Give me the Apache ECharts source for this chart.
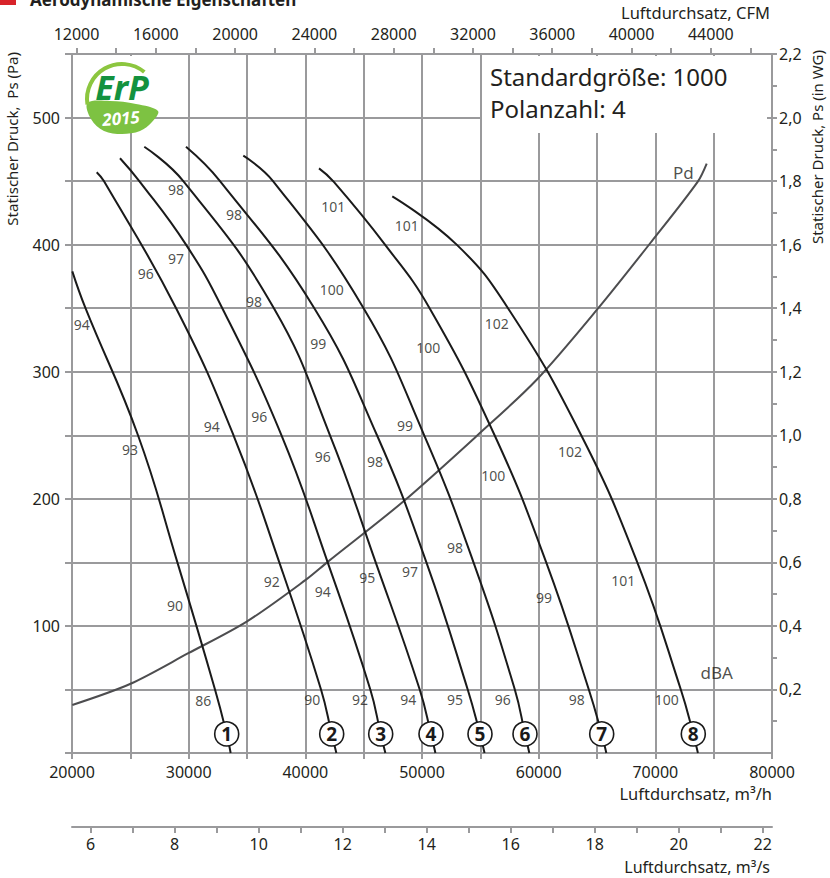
<!DOCTYPE html>
<html>
<head>
<meta charset="utf-8">
<script src="https://cdn.jsdelivr.net/npm/echarts@6/dist/echarts.min.js"></script>
<style>
  html, body { margin: 0; padding: 0; background: #fff; }
  #chart { width: 830px; height: 878px; }
</style>
</head>
<body>
<div id="chart"></div>
<script>
// Kennlinien: [Luftdurchsatz m3/h, statischer Druck Pa]
const curve1 = [[20026,379],[21157,350],[25657,250],[29034,150],[32257,50],[33260,15],[33600,0]];
const curve2 = [[22117,457],[22734,450],[28923,350],[33843,250],[37769,150],[41343,50],[42260,15],[42660,0]];
const curve3 = [[24114,468],[25769,450],[29771,400],[32883,350],[37957,250],[41917,150],[45569,50],[46460,15],[46860,0]];
const curve4 = [[26197,477],[29540,450],[37306,350],[42114,250],[46031,150],[49803,50],[50771,15],[51150,0]];
const curve5 = [[29771,477],[32686,450],[40769,350],[46143,250],[50377,150],[53917,50],[54971,15],[55360,0]];
const curve6 = [[34683,470],[37229,450],[44994,350],[50189,250],[54414,150],[57954,50],[58829,15],[59200,0]];
const curve7 = [[41171,460],[42380,450],[46829,400],[50651,350],[56223,250],[60646,150],[64297,50],[65403,15],[65800,0]];
const curve8 = [[47454,438],[52971,400],[57371,350],[63646,250],[68454,150],[72183,50],[73254,15],[73650,0]];
// dynamischer Druck Pd
const pdCurve = [[20026,37.8],[24971,54.3],[29969,78.5],[34974,103.4],[40000,136],[41917,150.4],[48397,197.9],[54800,250.4],[59829,293.7],[65069,349.6],[69686,402.6],[73640,449.6],[74403,463.8]];

// Schallpegel dBA an den Kennlinien: [m3/h, Pa, Text]
const dba1 = [[20831,337,'94'],[24971,239,'93'],[28829,116,'90'],[31254,41,'86']];
const dba2 = [[26317,377,'96'],[31974,257,'94'],[37117,135,'92'],[40597,42,'90']];
const dba3 = [[28914,389,'97'],[36054,265,'96'],[41489,127,'94'],[44686,42,'92']];
const dba4 = [[28914,443,'98'],[35600,355,'98'],[41489,233,'96'],[45311,138,'95'],[48826,42,'94']];
const dba5 = [[33886,424,'98'],[41111,322,'99'],[45971,229,'98'],[48971,143,'97'],[52829,42,'95']];
const dba6 = [[42260,365,'100'],[48543,258,'99'],[52829,162,'98'],[56917,42,'96']];
const dba7 = [[42397,430,'101'],[50540,319,'100'],[56111,218,'100'],[60457,122,'99'],[63260,42,'98']];
const dba8 = [[48689,415,'101'],[56403,338,'102'],[62686,237,'102'],[67254,136,'101'],[70974,42,'100']];

// Kurvennummern (Kreise)
const curveNumbers = [[33260,15,'1'],[42260,15,'2'],[46460,15,'3'],[50771,15,'4'],[54971,15,'5'],[58829,15,'6'],[65403,15,'7'],[73254,15,'8']];
const curveNames = [[72397,457,'Pd'],[75257,63,'dBA']];

// Achsen
const m3hLabels = [20000,30000,40000,50000,60000,70000,80000];
const cfmTicks = [12000,14000,16000,18000,20000,22000,24000,26000,28000,30000,32000,34000,36000,38000,40000,42000,44000,46000];
const cfmLabels = [12000,16000,20000,24000,28000,32000,36000,40000,44000];
const m3sTicks = [6,7,8,9,10,11,12,13,14,15,16,17,18,19,20,21,22];
const m3sLabels = [6,8,10,12,14,16,18,20,22];
const paLabels = [100,200,300,400,500];
const wgTicks = [0.1,0.2,0.3,0.4,0.5,0.6,0.7,0.8,0.9,1.0,1.1,1.2,1.3,1.4,1.5,1.6,1.7,1.8,1.9,2.0,2.1,2.2];
const wgLabels = [0.2,0.4,0.6,0.8,1.0,1.2,1.4,1.6,1.8,2.0,2.2];

const M3H_PER_CFM = 1.699;
const M3H_PER_M3S = 3600;
const Q_MIN = 20000, Q_MAX = 80000;

const gray = '#9a9a9c';
const ink = '#231f20';
const FONT = '"Noto Sans", "DejaVu Sans", sans-serif';

const chart = echarts.init(document.getElementById('chart'), null, { renderer: 'svg' });

// Zahlen ohne Tausendertrennzeichen
const plain = v => String(Math.round(v));

function axisBase(extra) {
  return Object.assign({
    type: 'value',
    axisLine: { show: true, onZero: false, lineStyle: { color: gray, width: 2 } },
    axisTick: { show: true, inside: false, length: 6, lineStyle: { color: gray, width: 2 } },
    splitLine: { show: false },
    axisLabel: { color: ink, fontSize: 16, fontFamily: FONT }
  }, extra);
}

function fanLine(data) {
  return {
    type: 'line', data: data, smooth: 0.45, showSymbol: false, symbol: 'none',
    lineStyle: { color: '#1a1a1a', width: 2 }, z: 3, silent: true
  };
}

function textMarks(data, size) {
  return {
    type: 'scatter', data: data, symbolSize: 1, silent: true, z: 4,
    itemStyle: { color: 'rgba(0,0,0,0)' },
    label: {
      show: true, position: 'inside', formatter: p => p.value[2],
      color: ink, fontSize: size, fontFamily: FONT
    }
  };
}

const xBottom = axisBase({
  position: 'bottom', min: Q_MIN, max: Q_MAX, interval: 5000,
  axisLabel: { customValues: m3hLabels, formatter: plain, color: ink, fontSize: 16, fontFamily: FONT, margin: 11 },
  splitLine: { show: true, lineStyle: { color: gray, width: 2 } }
});
const xTop = axisBase({
  position: 'top', min: Q_MIN / M3H_PER_CFM, max: Q_MAX / M3H_PER_CFM,
  axisTick: { show: true, length: 6, customValues: cfmTicks, lineStyle: { color: gray, width: 2 } },
  axisLabel: { customValues: cfmLabels, formatter: plain, color: ink, fontSize: 16, fontFamily: FONT, margin: 12 }
});
const xM3s = axisBase({
  position: 'bottom', offset: 74, min: Q_MIN / M3H_PER_M3S, max: Q_MAX / M3H_PER_M3S,
  axisTick: { show: true, length: 6, customValues: m3sTicks, lineStyle: { color: gray, width: 2 } },
  axisLabel: { customValues: m3sLabels, formatter: plain, color: ink, fontSize: 16, fontFamily: FONT, margin: 9, lineHeight: 16 }
});
const yLeft = axisBase({
  position: 'left', min: 0, max: 550, interval: 50,
  axisTick: { show: true, length: 7, lineStyle: { color: gray, width: 2 } },
  axisLabel: { customValues: paLabels, formatter: plain, color: ink, fontSize: 16, fontFamily: FONT, margin: 12 },
  splitLine: { show: true, lineStyle: { color: gray, width: 2 } }
});
const yRight = axisBase({
  position: 'right', min: 0, max: 2.2,
  axisTick: { show: true, length: 5, customValues: wgTicks, lineStyle: { color: gray, width: 2 } },
  axisLabel: {
    customValues: wgLabels, color: ink, fontSize: 16, fontFamily: FONT, margin: 7,
    formatter: v => v.toFixed(1).replace('.', ',')
  }
});

const option = {
  animation: false,
  backgroundColor: '#fff',
  grid: { left: 72, right: 58, top: 54, bottom: 125 },
  xAxis: [xBottom, xTop, xM3s],
  yAxis: [yLeft, yRight],
  series: [
    fanLine(curve1), fanLine(curve2), fanLine(curve3), fanLine(curve4),
    fanLine(curve5), fanLine(curve6), fanLine(curve7), fanLine(curve8),
    {
      type: 'line', data: pdCurve, smooth: 0.3, showSymbol: false, symbol: 'none',
      lineStyle: { color: '#4d4d4f', width: 2 }, z: 2, silent: true
    },
    textMarks(dba1, 14), textMarks(dba2, 14), textMarks(dba3, 14), textMarks(dba4, 14),
    textMarks(dba5, 14), textMarks(dba6, 14), textMarks(dba7, 14), textMarks(dba8, 14),
    textMarks(curveNames, 17),
    {
      type: 'scatter', data: curveNumbers, symbolSize: 24, silent: true, z: 6,
      itemStyle: { color: '#fff', borderColor: '#1a1a1a', borderWidth: 1.6, opacity: 1 },
      label: {
        show: true, position: 'inside', formatter: p => p.value[2],
        color: '#1a1a1a', fontSize: 19, fontWeight: 'bold', fontFamily: FONT
      }
    }
  ],
  graphic: [
    // Titel (oben angeschnitten)
    { type: 'rect', z: 100, shape: { x: 0, y: -10, width: 16, height: 15 }, style: { fill: '#d8232a' } },
    { type: 'text', z: 100, x: 30, y: 8, style: { text: 'Aerodynamische Eigenschaften', font: 'bold 17px ' + FONT, fill: ink, verticalAlign: 'bottom' } },
    // Achsentitel
    { type: 'text', z: 100, x: 770, y: 12, style: { text: 'Luftdurchsatz, CFM', font: '16.5px ' + FONT, fill: ink, align: 'right', verticalAlign: 'middle' } },
    { type: 'text', z: 100, x: 772, y: 793, style: { text: 'Luftdurchsatz, m³/h', font: '16.5px ' + FONT, fill: ink, align: 'right', verticalAlign: 'middle' } },
    { type: 'text', z: 100, x: 770, y: 867, style: { text: 'Luftdurchsatz, m³/s', font: '16px ' + FONT, fill: ink, align: 'right', verticalAlign: 'middle' } },
    { type: 'text', z: 100, x: 12, y: 52, rotation: Math.PI / 2, style: { text: 'Statischer Druck,  Ps (Pa)', font: '15px ' + FONT, fill: ink, align: 'right', verticalAlign: 'middle' } },
    { type: 'text', z: 100, x: 817, y: 50, rotation: Math.PI / 2, style: { text: 'Statischer Druck, Ps (in WG)', font: '15px ' + FONT, fill: ink, align: 'right', verticalAlign: 'middle' } },
    // Textfeld
    { type: 'rect', z: 100, shape: { x: 482, y: 56, width: 285, height: 77 }, style: { fill: '#fff' } },
    { type: 'text', z: 101, x: 490, y: 76, style: { text: 'Standardgröße: 1000', font: '24px ' + FONT, fill: ink, verticalAlign: 'middle' } },
    { type: 'text', z: 101, x: 490, y: 108, style: { text: 'Polanzahl: 4', font: '24px ' + FONT, fill: ink, verticalAlign: 'middle' } },
    // ErP 2015 Logo
    { type: 'rect', z: 100, shape: { x: 85, y: 56, width: 76, height: 54 }, style: { fill: '#fff' } },
    {
      type: 'polygon', z: 101,
      shape: { points: [[87.5,103],[91,119],[104,131],[122,134],[140,131],[152,122],[158,111],[136,104],[110,101]], smooth: 0.35 },
      style: { fill: '#7dc242' }
    },
    { type: 'arc', z: 101, shape: { cx: 122, cy: 99, r: 35, startAngle: Math.PI * 0.95, endAngle: Math.PI * 1.72, clockwise: true }, style: { stroke: '#8cc63f', lineWidth: 4, fill: null } },
    { type: 'text', z: 102, x: 122, y: 87, style: { text: 'ErP', font: 'italic bold 34px ' + FONT, fill: '#13923f', align: 'center', verticalAlign: 'middle' } },
    { type: 'text', z: 102, x: 121, y: 118, rotation: 0.08, style: { text: '2015', font: 'italic bold 17px ' + FONT, fill: '#fff', align: 'center', verticalAlign: 'middle' } }
  ]
};

chart.setOption(option);
</script>
</body>
</html>
